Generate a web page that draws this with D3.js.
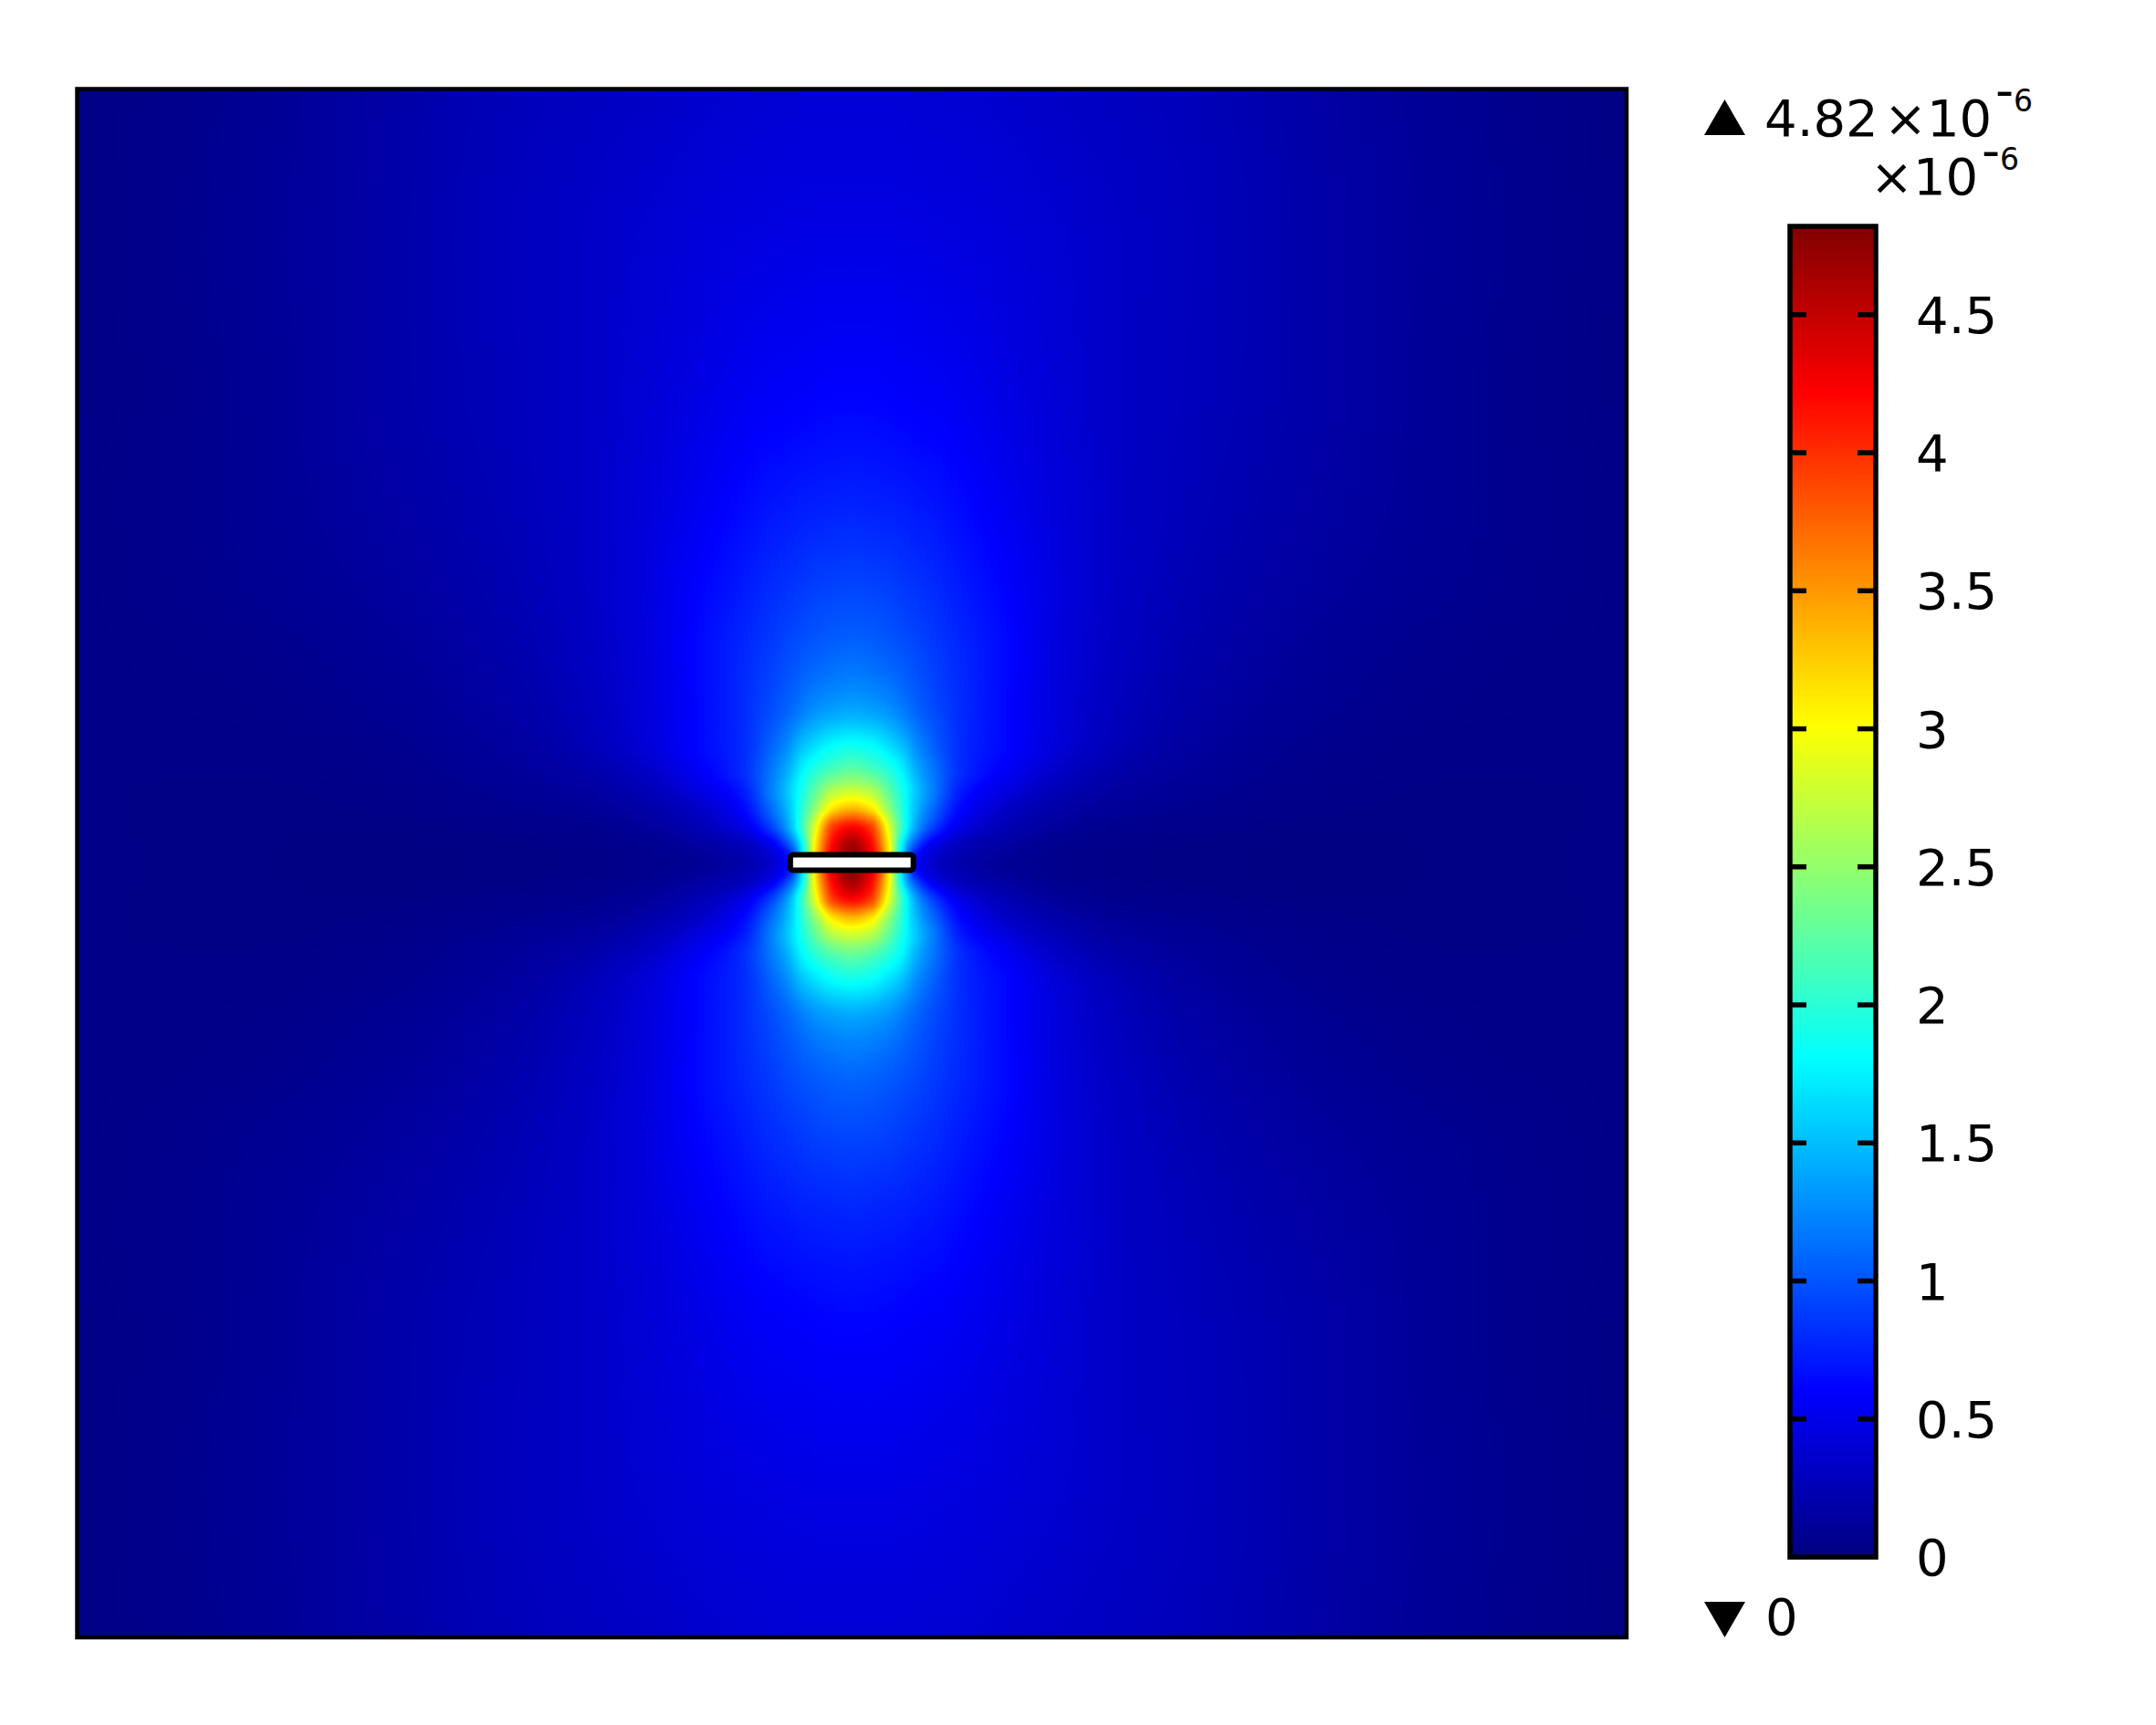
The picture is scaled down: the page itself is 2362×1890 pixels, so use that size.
<!DOCTYPE html>
<html><head><meta charset="utf-8">
<script src="https://cdn.jsdelivr.net/npm/d3@7"></script>
<style>html,body{margin:0;padding:0;background:#fff}svg{display:block}text{font-family:"DejaVu Sans";fill:#000}</style>
</head><body><div id="chart"></div>
<script>
// Field magnitude (units of 1e-6), on a grid of offsets from the rod centre.
const offsetsAlong = [0,20,40,55,70,90,120,170,230,300,400,520,680,850];
const offsetsAcross = [0,11,20,40,60,80,100,130,170,230,300,400,520,680,850];
const fieldRows = [
 [4.80,4.45,3.15,1.55,0.60,0.36,0.20,0.10,0.05,0.03,0.02,0.01,0.02,0.03],
 [4.75,4.35,3.15,1.65,0.72,0.40,0.24,0.12,0.06,0.03,0.02,0.01,0.02,0.03],
 [4.65,4.25,3.10,1.75,0.95,0.50,0.28,0.15,0.07,0.04,0.02,0.01,0.02,0.03],
 [4.20,3.95,2.90,2.05,1.38,0.88,0.48,0.25,0.12,0.06,0.04,0.02,0.02,0.03],
 [3.35,3.15,2.50,1.98,1.50,1.08,0.62,0.33,0.18,0.10,0.06,0.03,0.02,0.03],
 [2.75,2.65,2.25,1.90,1.55,1.18,0.72,0.45,0.25,0.14,0.08,0.04,0.02,0.03],
 [2.30,2.20,2.00,1.77,1.45,1.15,0.80,0.55,0.32,0.18,0.10,0.05,0.03,0.03],
 [1.85,1.80,1.65,1.50,1.27,1.05,0.80,0.62,0.40,0.24,0.12,0.06,0.03,0.03],
 [1.38,1.35,1.28,1.18,1.07,0.95,0.80,0.62,0.42,0.27,0.15,0.08,0.04,0.03],
 [1.10,1.08,1.04,1.00,0.95,0.88,0.78,0.63,0.43,0.30,0.18,0.10,0.05,0.03],
 [0.93,0.92,0.90,0.87,0.84,0.80,0.72,0.60,0.44,0.32,0.21,0.13,0.07,0.03],
 [0.75,0.74,0.73,0.72,0.70,0.68,0.63,0.53,0.42,0.33,0.24,0.16,0.08,0.03],
 [0.60,0.60,0.59,0.58,0.57,0.56,0.53,0.47,0.40,0.33,0.26,0.18,0.08,0.02],
 [0.48,0.48,0.48,0.47,0.47,0.46,0.45,0.42,0.38,0.33,0.27,0.18,0.09,0.02],
 [0.40,0.40,0.40,0.40,0.39,0.39,0.38,0.36,0.33,0.30,0.25,0.17,0.08,0.02]
];
const barTicks = [0,0.5,1,1.5,2,2.5,3,3.5,4,4.5];
const barTickLabels = ["0","0.5","1","1.5","2","2.5","3","3.5","4","4.5"];
const valueMax = 4.82, valueMin = 0;
const maxLabel = "4.82", minLabel = "0", factorLabel = "×10", exponentSign = "-", exponentDigit = "6";
const rodHalfLength = 67.5, rodHalfHeight = 8.5;
const jetPositions = [0,0.125,0.375,0.625,0.875,1];
const jetColors = ["#000080","#0000ff","#00ffff","#ffff00","#ff0000","#800000"];

const W = 2362, H = 1890;
const svg = d3.select("#chart").append("svg").attr("width",W).attr("height",H).attr("viewBox",`0 0 ${W} ${H}`);
svg.append("rect").attr("width",W).attr("height",H).attr("fill","#fff");

const x = d3.scaleLinear().domain([-850,850]).range([84.5,1782]);
const y = d3.scaleLinear().domain([-850,850]).range([97.5,1794]);
const barY = d3.scaleLinear().domain([0,valueMax]).range([1706,248]);
const color = d3.scaleLinear().domain(jetPositions.map(p=>p*valueMax)).range(jetColors).clamp(true);

// monotone cubic slopes + evaluation along a non-uniform axis
function slopes(xs, ys){
  const n=xs.length, d=[], m=new Array(n);
  for(let i=0;i<n-1;i++) d.push((ys[i+1]-ys[i])/(xs[i+1]-xs[i]));
  m[0]=0; m[n-1]=d[n-2];
  for(let i=1;i<n-1;i++){
    if(d[i-1]*d[i]<=0) m[i]=0;
    else { const h0=xs[i]-xs[i-1],h1=xs[i+1]-xs[i],w1=2*h1+h0,w2=h1+2*h0; m[i]=(w1+w2)/(w1/d[i-1]+w2/d[i]); }
  }
  return m;
}
function evalAt(xs, ys, m, t){
  let i=d3.bisectRight(xs,t)-1; i=Math.max(0,Math.min(xs.length-2,i));
  const h=xs[i+1]-xs[i], s=(t-xs[i])/h, s2=s*s, s3=s2*s;
  return (2*s3-3*s2+1)*ys[i]+(s3-2*s2+s)*h*m[i]+(-2*s3+3*s2)*ys[i+1]+(s3-s2)*h*m[i+1];
}
const colData = offsetsAlong.map((_,c)=>{const v=fieldRows.map(r=>r[c]);return {v,m:slopes(offsetsAcross,v)};});

const x0=84,x1=1782,y0=97,y1=1794,cw=x1-x0,ch=y1-y0;
const canvas=document.createElement("canvas");canvas.width=cw;canvas.height=ch;
const ctx=canvas.getContext("2d");const img=ctx.createImageData(cw,ch);
const lut=d3.range(1025).map(i=>d3.rgb(color(i/1024*valueMax)));
const xInv=new Float64Array(cw);for(let i=0;i<cw;i++)xInv[i]=Math.min(850,Math.abs(x.invert(x0+i+0.5)));
for(let j=0;j<ch;j++){
  const a=Math.min(850,Math.abs(y.invert(y0+j+0.5)));
  const row=colData.map(c=>evalAt(offsetsAcross,c.v,c.m,a));
  const rm=slopes(offsetsAlong,row);
  for(let i=0;i<cw;i++){
    const v=Math.max(0,Math.min(valueMax,evalAt(offsetsAlong,row,rm,xInv[i])));
    const c=lut[Math.round(v/valueMax*1024)],k=(j*cw+i)*4;
    img.data[k]=c.r;img.data[k+1]=c.g;img.data[k+2]=c.b;img.data[k+3]=255;
  }
}
ctx.putImageData(img,0,0);
svg.append("image").attr("x",x0).attr("y",y0).attr("width",cw).attr("height",ch).attr("href",canvas.toDataURL("image/png"));

// plot frame
svg.append("rect").attr("x",x(-850)).attr("y",y(-850)).attr("width",x(850)-x(-850)).attr("height",y(850)-y(-850))
  .attr("fill","none").attr("stroke","#000").attr("stroke-width",4.5);
// rod
svg.append("rect").attr("x",x(-rodHalfLength)).attr("y",y(-rodHalfHeight)-0.75).attr("width",x(rodHalfLength)-x(-rodHalfLength)).attr("height",y(rodHalfHeight)-y(-rodHalfHeight))
  .attr("rx",3).attr("fill","#fff").attr("stroke","#000").attr("stroke-width",6);

// colour bar
const defs=svg.append("defs");
const grad=defs.append("linearGradient").attr("id","jet").attr("x1",0).attr("x2",0).attr("y1",1).attr("y2",0);
jetPositions.forEach((p,i)=>grad.append("stop").attr("offset",p).attr("stop-color",jetColors[i]));
const bx0=1961,bx1=2055;
svg.append("rect").attr("x",bx0).attr("y",barY(valueMax)).attr("width",bx1-bx0).attr("height",barY(0)-barY(valueMax))
  .attr("fill","url(#jet)").attr("stroke","#000").attr("stroke-width",5.5);
const tg=svg.append("g").selectAll("g").data(barTicks.slice(1)).join("g");
tg.append("line").attr("x1",bx0).attr("x2",1979).attr("y1",d=>barY(d)).attr("y2",d=>barY(d)).attr("stroke","#000").attr("stroke-width",5.5);
tg.append("line").attr("x1",2035).attr("x2",bx1).attr("y1",d=>barY(d)).attr("y2",d=>barY(d)).attr("stroke","#000").attr("stroke-width",5.5);
svg.append("g").selectAll("text").data(barTicks).join("text")
  .attr("x",2099).attr("y",d=>barY(d)+20).attr("font-size",56).text((d,i)=>barTickLabels[i]);

// max / min markers
svg.append("path").attr("d","M1867,148L1889.5,109L1912,148Z").attr("fill","#000");
svg.append("path").attr("d","M1867,1755L1912,1755L1889.5,1794Z").attr("fill","#000");
const maxT=svg.append("text").attr("font-size",56);
maxT.append("tspan").attr("x",1933).attr("y",149).text(maxLabel);
maxT.append("tspan").attr("x",2064).attr("y",149).text(factorLabel);
maxT.append("tspan").attr("x",2186).attr("y",118).text(exponentSign);
maxT.append("tspan").attr("x",2206).attr("y",122).attr("font-size",33).text(exponentDigit);
const facT=svg.append("text").attr("font-size",56);
facT.append("tspan").attr("x",2049).attr("y",213).text(factorLabel);
facT.append("tspan").attr("x",2171).attr("y",184).text(exponentSign);
facT.append("tspan").attr("x",2191).attr("y",186).attr("font-size",33).text(exponentDigit);
svg.append("text").attr("x",1934).attr("y",1791).attr("font-size",56).text(minLabel);
</script></body></html>
